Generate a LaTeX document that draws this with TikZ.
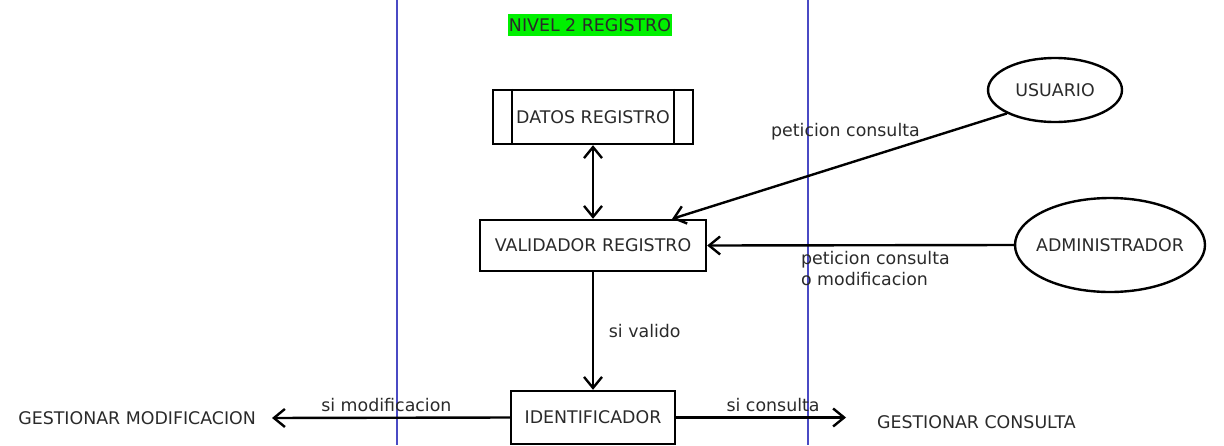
\documentclass[tikz,border=0pt]{standalone}
\usepackage{fontspec}
\setmainfont{DejaVu Sans}
\usepackage{xcolor}
\usetikzlibrary{positioning, arrows.meta, calc, shapes.geometric}
\definecolor{laneblue}{HTML}{4A4AC4}
\definecolor{titlegreen}{HTML}{00F000}
\definecolor{inktext}{HTML}{2A2A2A}

\tikzset{
  every node/.style={font=\fontsize{8.7}{10.5}\selectfont, text=inktext},
  procbox/.style={draw=black, line width=1.2pt, fill=white},
  actor/.style={ellipse, draw=black, line width=1.2pt, fill=white, inner xsep=-4pt, inner ysep=0pt},
  barb/.tip={Straight Barb[length=5.5pt, width=9pt, line width=1.2pt]},
  flow/.style={line width=1.2pt, -barb},
  lane/.style={laneblue, line width=0.6pt}
}

\begin{document}
\begin{tikzpicture}[x=0.5pt, y=-0.5pt]
  \useasboundingbox (0,0) rectangle (1224,445);

  % swimlane borders
  \draw[lane] (397,0) -- (397,445);
  \draw[lane] (808,0) -- (808,445);

  \node[fill=titlegreen, inner xsep=0.5pt, inner ysep=2pt] (titulo) at (590,25) {NIVEL 2 REGISTRO};

  % store and processes
  \node[procbox, minimum width=100pt, minimum height=27pt] (datos) at (593,117) {DATOS REGISTRO};
  \draw[line width=1.2pt] ([xshift=10pt]datos.north west) -- ([xshift=10pt]datos.south west);
  \draw[line width=1.2pt] ([xshift=-10pt]datos.north east) -- ([xshift=-10pt]datos.south east);
  \node[procbox, minimum width=113pt, minimum height=25.5pt] (validador) at (593,245.5) {VALIDADOR REGISTRO};
  \node[procbox, minimum width=82pt, minimum height=26.5pt] (identificador) at (593,417.5) {IDENTIFICADOR};

  % external actors
  \node[actor, minimum width=67pt, minimum height=32pt] (usuario) at (1055,90) {USUARIO};
  \node[actor, minimum width=95pt, minimum height=47pt] (admin) at (1110,245) {ADMINISTRADOR};

  % outputs
  \node[anchor=east] (gestmod) at (263,418) {GESTIONAR MODIFICACION};
  \node[anchor=west] (gestcons) at (870,422) {GESTIONAR CONSULTA};

  % flows
  \draw[flow, barb-barb] (datos.south) -- (validador.north);
  \draw[flow] (usuario.south west) -- ($(validador.north east)+(-35,0)$)
    node[pos=0.5, above=9pt, xshift=3pt] (lblusuario) {peticion consulta};
  \draw[flow] (admin.west) -- (validador.east)
    node[pos=0.70, anchor=north west, align=left, xshift=-3pt, yshift=1pt] (lbladmin) {peticion consulta\\o modificacion};
  \draw[flow] (validador.south) -- (identificador.north)
    node[midway, right=4pt] (lblvalido) {si valido};
  \draw[flow, shorten >=4.5pt] (identificador.west) -- (gestmod.east)
    node[pos=0.5, above=-1pt] (lblmod) {si modificacion};
  \draw[flow, shorten >=12pt] (identificador.east) -- (gestcons.west |- identificador.east)
    node[pos=0.5, above=-1pt] (lblcons) {si consulta};
\end{tikzpicture}
\end{document}
